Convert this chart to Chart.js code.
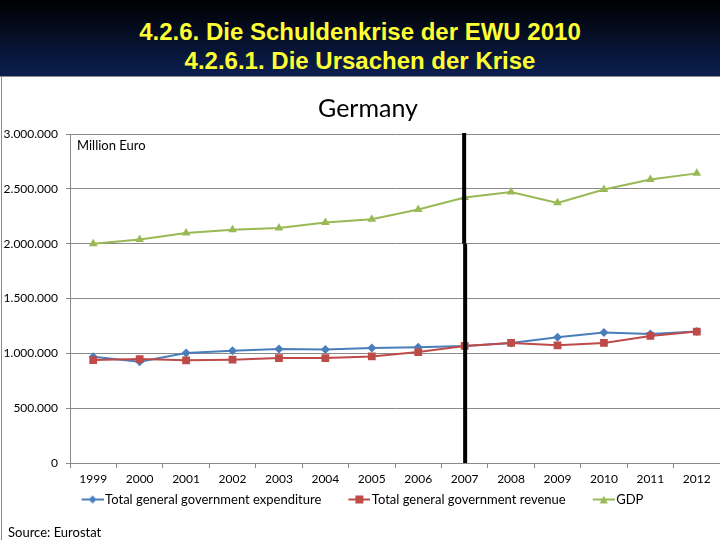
<!DOCTYPE html>
<html>
<head>
<meta charset="utf-8">
<script src="https://cdn.jsdelivr.net/npm/chart.js@4/dist/chart.umd.min.js"></script>
<style>
  body { margin: 0; width: 720px; height: 540px; background: #fff; position: relative; overflow: hidden; font-family: Lato, sans-serif; }
  #head { position: absolute; left: 0; top: 0; width: 720px; height: 76px; background: linear-gradient(#000000, #0b1f50); border-bottom: 1px solid #8a8a8a; }
  #head div { position: absolute; left: 0; width: 720px; text-align: center; color: #ffff33; font: bold 24px "Liberation Sans", Arial, sans-serif; }
  #frame { position: absolute; left: 1px; top: 77px; width: 1px; height: 463px; background: #8a8a8a; }
  #wrap { position: absolute; left: 0; top: 77px; width: 720px; height: 463px; }
  .note { position: absolute; font-size: 13px; color: #000; font-family: Lato, sans-serif; }
  #ctitle { position: absolute; left: 268px; width: 200px; top: 92px; text-align: center; font: 25px Lato, sans-serif; color: #000; }
</style>
</head>
<body>
<div id="head">
  <div style="top:18px">4.2.6. Die Schuldenkrise der EWU 2010</div>
  <div style="top:47px">4.2.6.1. Die Ursachen der Krise</div>
</div>
<div id="frame"></div>
<div id="wrap"><canvas id="chart" width="720" height="463"></canvas></div>
<div id="ctitle">Germany</div>
<div class="note" style="left:77px; top:137px">Million Euro</div>
<div class="note" style="left:8px; top:524px">Source: Eurostat</div>
<script>
// Jahre (Kategorien)
const years = ['1999', '2000', '2001', '2002', '2003', '2004', '2005', '2006', '2007', '2008', '2009', '2010', '2011', '2012'];

// Werte in Mio. Euro
const expenditure = [968000, 924000, 1003000, 1024000, 1040000, 1036000, 1049000, 1055000, 1067000, 1095000, 1146000, 1189000, 1177000, 1198000];
const revenue = [939000, 948000, 936000, 942000, 957000, 957000, 972000, 1012000, 1067000, 1095000, 1073000, 1095000, 1159000, 1198000];
const gdp = [2000000, 2037000, 2097000, 2128000, 2143000, 2192000, 2222000, 2311000, 2421000, 2470000, 2372000, 2494000, 2586000, 2641000];

// Markierung (schwarze Linie) beim Jahr
const markYear = '2007';

// kleines Bild für die Legende: Linie mit Marker (links 10px leer)
function legendIcon(color, style) {
    const c = document.createElement('canvas');
    c.width = 32;
    c.height = 10;
    const g = c.getContext('2d');
    g.strokeStyle = color;
    g.lineWidth = 2;
    g.beginPath();
    g.moveTo(10, 5);
    g.lineTo(32, 5);
    g.stroke();
    g.fillStyle = color;
    g.beginPath();
    if (style === 'rectRot') {
        g.moveTo(21, 1); g.lineTo(25, 5); g.lineTo(21, 9); g.lineTo(17, 5);
    } else if (style === 'rect') {
        g.rect(17, 1, 8, 8);
    } else {
        g.moveTo(21, 1); g.lineTo(25, 9); g.lineTo(17, 9);
    }
    g.closePath();
    g.fill();
    return c;
}

// schwarze senkrechte Linie
const markLine = {
    id: 'markLine',
    afterDatasetsDraw(chart) {
        const ctx = chart.ctx;
        const x = chart.scales.x.getPixelForValue(years.indexOf(markYear));
        const y = chart.scales.y;
        const mid = y.getPixelForValue(2000000);
        ctx.save();
        ctx.strokeStyle = '#000';
        ctx.lineWidth = 4;
        ctx.beginPath();
        ctx.moveTo(x - 0.5, chart.chartArea.top - 1);
        ctx.lineTo(x - 0.5, mid);
        ctx.stroke();
        ctx.beginPath();
        ctx.moveTo(x + 0.5, mid);
        ctx.lineTo(x + 0.5, chart.chartArea.bottom);
        ctx.stroke();
        ctx.restore();
    }
};

// Legende etwas nach oben schieben
const legendUp = {
    id: 'legendUp',
    afterLayout(chart) {
        chart.legend.top -= 18;
        chart.legend.bottom -= 18;
    }
};

function series(label, data, color, style, radius, order) {
    return {
        label: label,
        data: data,
        borderColor: color,
        backgroundColor: color,
        borderWidth: 2,
        pointStyle: style,
        pointRadius: radius,
        pointBorderWidth: 0,
        tension: 0,
        order: order,
        icon: legendIcon(color, style)
    };
}

const ctx = document.getElementById('chart').getContext('2d');
const chart = new Chart(ctx, {
    type: 'line',
    data: {
        labels: years,
        datasets: [
            series('Total general government expenditure', expenditure, '#4a7ebb', 'rectRot', 4.5, 1),
            series('Total general government revenue', revenue, '#be4b48', 'rect', 5.5, 0),
            series('GDP', gdp, '#98b954', 'triangle', 5, 2)
        ]
    },
    options: {
        responsive: false,
        animation: false,
        devicePixelRatio: 1,
        layout: { autoPadding: false, padding: { left: 0, right: 0, top: 57, bottom: 6 } },
        plugins: {
            tooltip: { enabled: false },
            title: { display: false },
            legend: {
                position: 'bottom',
                labels: {
                    usePointStyle: true,
                    pointStyleWidth: 22,
                    boxHeight: 10,
                    padding: 22,
                    color: '#000',
                    font: { family: 'Lato', size: 13 },
                    generateLabels(chart) {
                        return chart.data.datasets.map((ds, i) => ({
                            text: ds.label,
                            fillStyle: ds.borderColor,
                            strokeStyle: ds.borderColor,
                            lineWidth: 0,
                            pointStyle: ds.icon,
                            datasetIndex: i,
                            fontColor: '#000'
                        }));
                    }
                }
            }
        },
        scales: {
            x: {
                offset: true,
                afterFit(scale) {
                    scale.height = 26;
                    scale.paddingLeft = 0;
                    scale.paddingRight = 0;
                },
                grid: { offset: true, drawOnChartArea: false, tickLength: 5, color: '#8a8a8a' },
                border: { color: '#8a8a8a' },
                ticks: { color: '#000', font: { family: 'Lato', size: 12 }, padding: 4, maxRotation: 0 }
            },
            y: {
                min: 0,
                max: 3000000,
                afterFit(scale) {
                    scale.width = 70;
                    scale.paddingTop = 0;
                    scale.paddingBottom = 0;
                },
                grid: { color: '#8a8a8a', tickLength: 4 },
                border: { color: '#8a8a8a' },
                ticks: {
                    stepSize: 500000,
                    color: '#000',
                    padding: 8,
                    font: { family: 'Lato', size: 12 },
                    callback: (v) => String(v).replace(/\B(?=(\d{3})+(?!\d))/g, '.')
                }
            }
        }
    },
    plugins: [markLine, legendUp]
});
</script>
</body>
</html>
